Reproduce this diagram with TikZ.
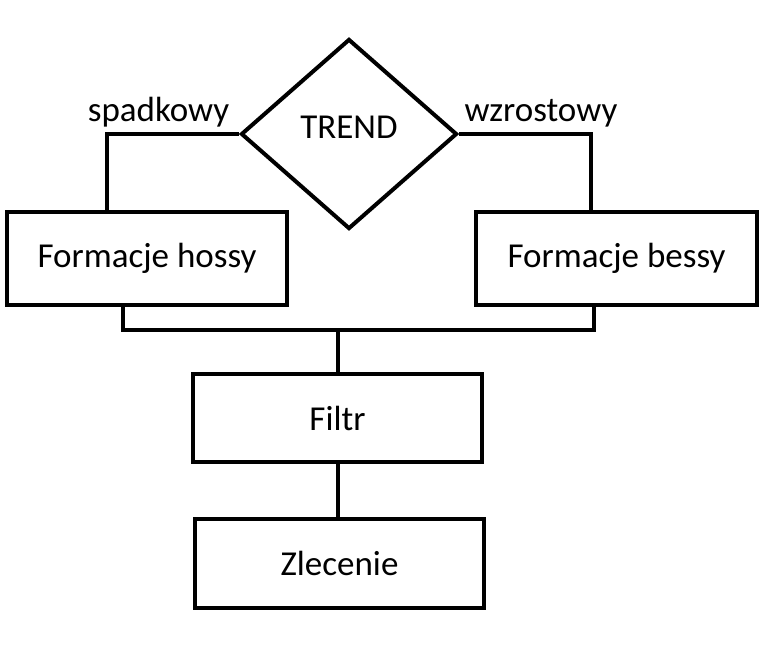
\documentclass[tikz,border=0pt]{standalone}
\usepackage{fontspec}
\setmainfont{Carlito}
\usetikzlibrary{shapes.geometric, positioning, calc}

\tikzset{
	blok/.style={draw, line width=4pt, minimum width=280pt, minimum height=93pt, inner sep=0pt, font=\fontsize{35}{40}\selectfont},
	decyzja/.style={draw, diamond, line width=4pt, minimum width=216pt, minimum height=190pt, inner sep=0pt},
	etykieta/.style={anchor=base, font=\fontsize{35}{40}\selectfont},
	linia/.style={line width=4pt}
}

\begin{document}
\begin{tikzpicture}[x=1pt, y=-1pt]
			\useasboundingbox (0,0) rectangle (781,669);
			
			\node[decyzja] (trend) at (349,134) {};
			\node[etykieta, anchor=center] (trendtxt) at ([yshift=7pt]trend.center) {TREND};
			
			\node[blok] (hossy) at (147,258.5) {Formacje hossy};
			\node[blok, minimum width=281pt] (bessy) at (616.5,258.5) {Formacje bessy};
			\node[blok, minimum width=289pt, minimum height=88pt] (filtr) at (337.5,418) {Filtr};
			\node[blok, minimum width=289pt, minimum height=89pt] (zlecenie) at (339.5,563.5) {Zlecenie};
			
			\node[etykieta] (spadek) at (158.5,121) {spadkowy};
			\node[etykieta] (wzrost) at (541,121) {wzrostowy};
			
			\coordinate (szyna) at (338,330);
			
			\draw[linia] (trend.west) -| ([xshift=-40pt]hossy.north);
			\draw[linia] (trend.east) -| ([xshift=-25.5pt]bessy.north);
			\draw[linia] ([xshift=-24pt]hossy.south) |- (szyna) -| ([xshift=-23pt]bessy.south);
			\draw[linia] (szyna) -- (szyna |- filtr.north);
			\draw[linia] (filtr.south) -- (filtr.south |- zlecenie.north);
			
\end{tikzpicture}
\end{document}
